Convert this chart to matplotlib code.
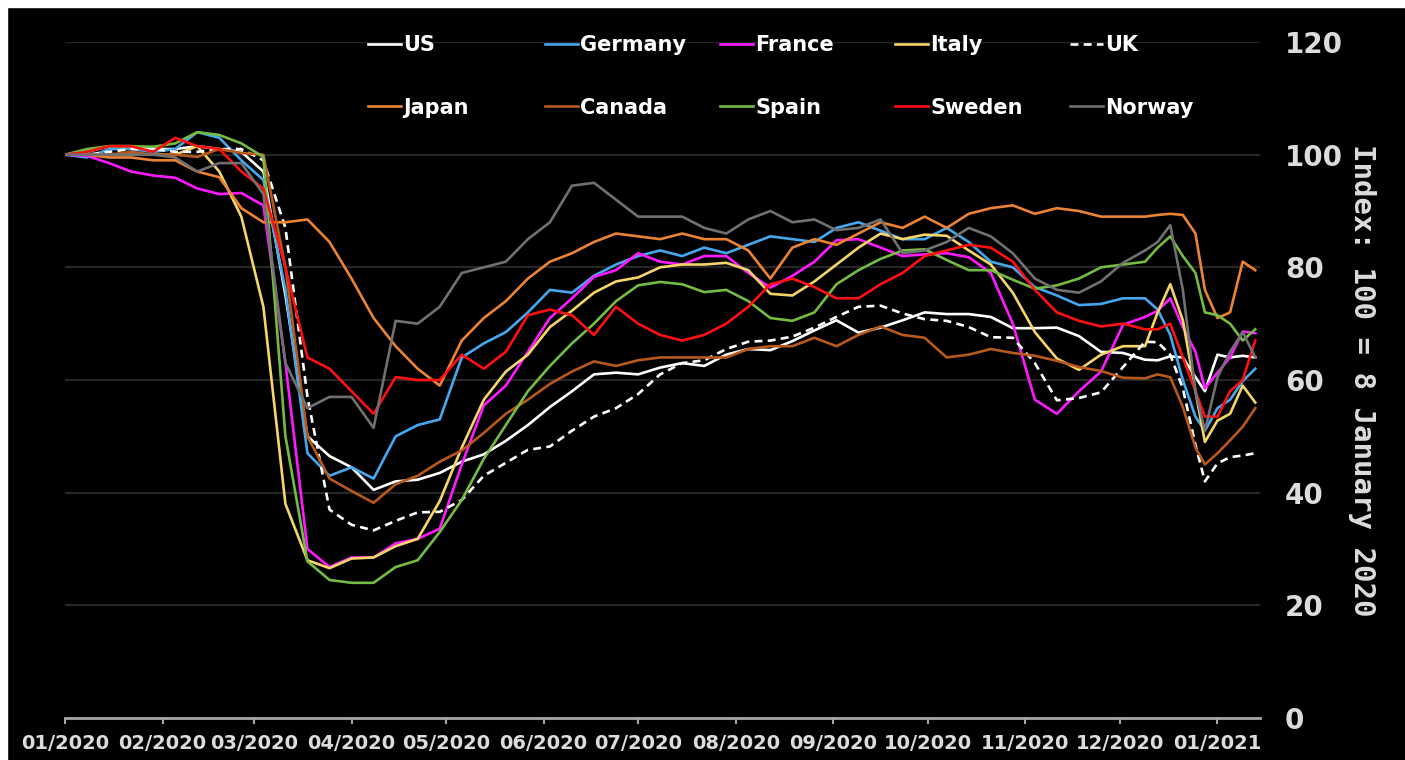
import numpy as np
import pandas as pd
import matplotlib
matplotlib.use("Agg")
import matplotlib.pyplot as plt
import matplotlib.dates as mdates
from matplotlib.patches import Rectangle
from matplotlib.legend import Legend

plt.rcParams['font.family'] = ['DejaVu Sans']
plt.rcParams['font.weight'] = 'bold'

# ---------------------------------- data --------------------------------------
# weekly readings from 8 Jan 2020, then a denser run over the year-end dip
weekly = pd.date_range("2020-01-08", "2020-12-16", freq="7D")
yearend = pd.to_datetime(["2020-12-20", "2020-12-24", "2020-12-28", "2021-01-01", "2021-01-04",
                          "2021-01-08", "2021-01-12", "2021-01-16", "2021-01-20"])
dates = weekly.append(yearend)

us = [100, 100.5, 101.5, 101.5, 101, 101, 101.5, 101, 100.5, 97,
      75, 50, 46.5, 44.5, 40.5, 42, 42.3, 43.5, 45.5, 46.8,
      49.2, 52, 55.2, 58, 61, 61.3, 61, 62.2, 63, 62.5,
      64.5, 65.5, 65.3, 66.9, 68.8, 70.6, 68.4, 69.3, 70.6, 72,
      71.7, 71.7, 71.2, 69.2, 69.2, 69.3, 67.8, 65, 64.8, 63.6,
      63.5, 64.2, 64, 60.5, 58, 64.5, 64, 64.3, 64]
germany = [100, 99.5, 101, 101, 100.5, 101, 104, 103, 99, 95.5,
           76, 47, 43, 44.5, 42.5, 50, 52, 53, 64, 66.5,
           68.5, 72, 76, 75.5, 78.5, 80.5, 82, 83, 82, 83.5,
           82.5, 84, 85.5, 85, 84.5, 87, 88, 86.5, 85, 85,
           87, 84.5, 81, 80, 76.5, 75, 73.3, 73.5, 74.5, 74.5,
           72.5, 68, 60, 53.5, 51, 55, 56.5, 59.8, 62]
france = [100, 99.8, 98.5, 97, 96.3, 95.9, 94, 93, 93.2, 91,
          63, 30, 26.8, 28.5, 28.5, 31, 31.8, 33.6, 45, 55.5,
          59, 65, 71, 74.5, 78.3, 79.5, 82.5, 81, 80.5, 82,
          82, 79, 76.4, 78.5, 81, 84.8, 85, 83.5, 82, 82.3,
          82.5, 81.8, 79, 70, 56.5, 54, 58, 61.5, 69.8, 71.2,
          72.3, 74.5, 69.4, 65, 58.5, 61.3, 64, 68.6, 68.3]
italy = [100, 100, 100, 100, 100, 100, 101.5, 97, 89, 73,
         38, 28, 26.6, 28.3, 28.5, 30.5, 31.8, 38.5, 48, 56.5,
         61.5, 64.5, 69.4, 72.3, 75.5, 77.5, 78.2, 80, 80.5, 80.5,
         80.8, 79.5, 75.3, 75, 77.5, 80.5, 83.5, 86, 85, 85.8,
         85.6, 83, 80.5, 75.5, 68.5, 63.8, 61.8, 64.5, 66, 66,
         72, 77, 70.6, 58, 49, 52.8, 54, 59, 56]
uk = [100, 100, 100.5, 101, 101, 100.5, 100.5, 101, 101, 99,
      87, 57, 37, 34.3, 33.3, 35, 36.5, 36.6, 38.7, 43,
      45.3, 47.6, 48.2, 51, 53.5, 55, 57.5, 61, 63, 63.5,
      65.5, 66.8, 67, 67.7, 69.3, 71.2, 73, 73.2, 71.8, 70.8,
      70.5, 69.4, 67.6, 67.5, 63, 56.4, 56.8, 57.8, 62.3, 66.8,
      66.7, 64.5, 58.5, 48.5, 42, 45.2, 46.3, 46.6, 47]
japan = [100, 100, 99.5, 99.5, 99, 99, 97, 96, 90.5, 88,
         88, 88.5, 84.5, 78, 71, 66, 62, 59, 67, 71,
         74, 78, 81, 82.5, 84.5, 86, 85.5, 85, 86, 85,
         85, 83, 78, 83.5, 85, 84, 86, 88, 87, 89,
         87, 89.5, 90.5, 91, 89.5, 90.5, 90, 89, 89, 89,
         89.3, 89.5, 89.3, 86, 76, 71, 72, 81, 79.5]
canada = [100, 100, 100, 100.5, 100, 100, 99.6, 101, 100.3, 100,
          80, 50, 42.5, 40.3, 38.2, 41.5, 43, 45.5, 47.5, 50.6,
          54, 56.5, 59.3, 61.5, 63.3, 62.5, 63.5, 64, 64, 64,
          64, 65.5, 66, 66, 67.5, 66, 68, 69.5, 68, 67.5,
          64, 64.5, 65.5, 64.8, 64.3, 63.4, 62.3, 61.6, 60.4, 60.3,
          61, 60.5, 55.2, 48, 45, 47, 49.3, 51.7, 55]
spain = [100, 101, 101.5, 101.5, 101.4, 102, 104, 103.5, 102, 99.6,
         50, 27.8, 24.5, 24, 24, 26.8, 28, 33, 38.7, 46,
         52, 58, 62.5, 66.5, 70, 74, 76.8, 77.4, 77, 75.6,
         76, 74, 71, 70.5, 72, 77, 79.5, 81.5, 83, 83.2,
         81.3, 79.5, 79.5, 77.8, 76.2, 76.8, 78, 80, 80.5, 81,
         83.5, 85.5, 82, 79, 72, 71.5, 70, 67, 69]
sweden = [100, 100.5, 101.5, 101.5, 100.5, 103, 101.5, 101, 97, 94,
          80, 64, 62, 58, 54, 60.5, 60, 60, 64.5, 62,
          65, 71.5, 72.5, 71.5, 68, 73, 70, 68, 67, 68,
          70, 73, 77, 78, 76.5, 74.5, 74.5, 77, 79, 82,
          83, 84, 83.5, 81, 76, 72, 70.5, 69.5, 70, 69,
          69, 70, 64, 58, 53.5, 53.5, 58, 60, 67]
norway = [100, 100, 100, 100, 100, 99.5, 97, 98.5, 98.5, 93,
          63, 55, 57, 57, 51.5, 70.5, 70, 73, 79, 80,
          81, 85, 88, 94.5, 95, 92, 89, 89, 89, 87,
          86, 88.5, 90, 88, 88.5, 86.6, 87, 88.5, 82.5, 83,
          84.5, 87, 85.5, 82.5, 78, 76, 75.5, 77.5, 80.8, 83,
          84.5, 87.5, 76, 58, 51, 60.5, 65, 68.5, 64]

names = ["US", "Germany", "France", "Italy", "UK",
         "Japan", "Canada", "Spain", "Sweden", "Norway"]
series = [us, germany, france, italy, uk, japan, canada, spain, sweden, norway]
colors = ["#ffffff", "#45a8ee", "#ff19ff", "#f5d468", "#ffffff",
          "#ec8334", "#b8581b", "#74bb43", "#ff1010", "#707070"]
styles = ["-", "-", "-", "-", (0, (3, 2)), "-", "-", "-", "-", "-"]

# ---------------------------------- figure ------------------------------------
fig = plt.figure(figsize=(14.05, 7.6), dpi=100, facecolor="black")
fig.add_artist(Rectangle((0, 1 - 7 / 760), 1, 7 / 760, transform=fig.transFigure,
                         color="white", zorder=10))
fig.add_artist(Rectangle((0, 0), 7 / 1405, 1, transform=fig.transFigure,
                         color="white", zorder=10))

ax = fig.add_axes([65 / 1405, 42 / 760, 1195 / 1405, 676 / 760])
ax.set_facecolor("black")

lines = []
for vals, c, ls in zip(series, colors, styles):
    ln, = ax.plot(dates, vals, color=c, lw=1.9, linestyle=ls)
    lines.append(ln)

ax.set_ylim(0, 120)
ax.set_yticks(np.arange(0, 121, 20))
ax.set_xlim(pd.Timestamp("2020-01-08"), pd.Timestamp("2020-01-08") + pd.Timedelta(days=379.5))
ax.set_xticks(pd.date_range("2020-01-08", periods=13, freq=pd.DateOffset(months=1)))
ax.xaxis.set_major_formatter(mdates.DateFormatter("%m/%Y"))

ax.grid(axis="y", color="#262626", lw=1.6)
ax.set_axisbelow(True)
for s in ["left", "top", "right"]:
    ax.spines[s].set_visible(False)
ax.spines["bottom"].set_color("#a6a6a6")
ax.spines["bottom"].set_linewidth(2)

ax.yaxis.tick_right()
ax.tick_params(axis="y", length=0, pad=18, labelsize=20, labelcolor="#dcdcdc")
ax.tick_params(axis="x", direction="out", length=4.5, width=1.5, color="#a6a6a6",
               labelsize=14, labelcolor="#dcdcdc", pad=7)

ax.yaxis.set_label_position("right")
ax.set_ylabel("Index: 100 = 8 January 2020", rotation=270, fontsize=21,
              family="DejaVu Sans Mono", fontweight="bold", color="#dcdcdc",
              labelpad=24)

# legend: five columns of two entries, evenly spaced like the original
col_x = [0.2536, 0.4017, 0.5481, 0.6946, 0.8410]
for c in range(5):
    leg = Legend(ax, [lines[c], lines[c + 5]], [names[c], names[c + 5]],
                 loc="upper left", bbox_to_anchor=(col_x[c], 1.0104),
                 frameon=False, labelcolor="white",
                 prop={"weight": "bold", "size": 15},
                 handlelength=1.6, handletextpad=0.1, borderpad=0,
                 borderaxespad=0, labelspacing=2.05)
    ax.add_artist(leg)

fig.savefig("out.png", dpi=100, facecolor=fig.get_facecolor())
